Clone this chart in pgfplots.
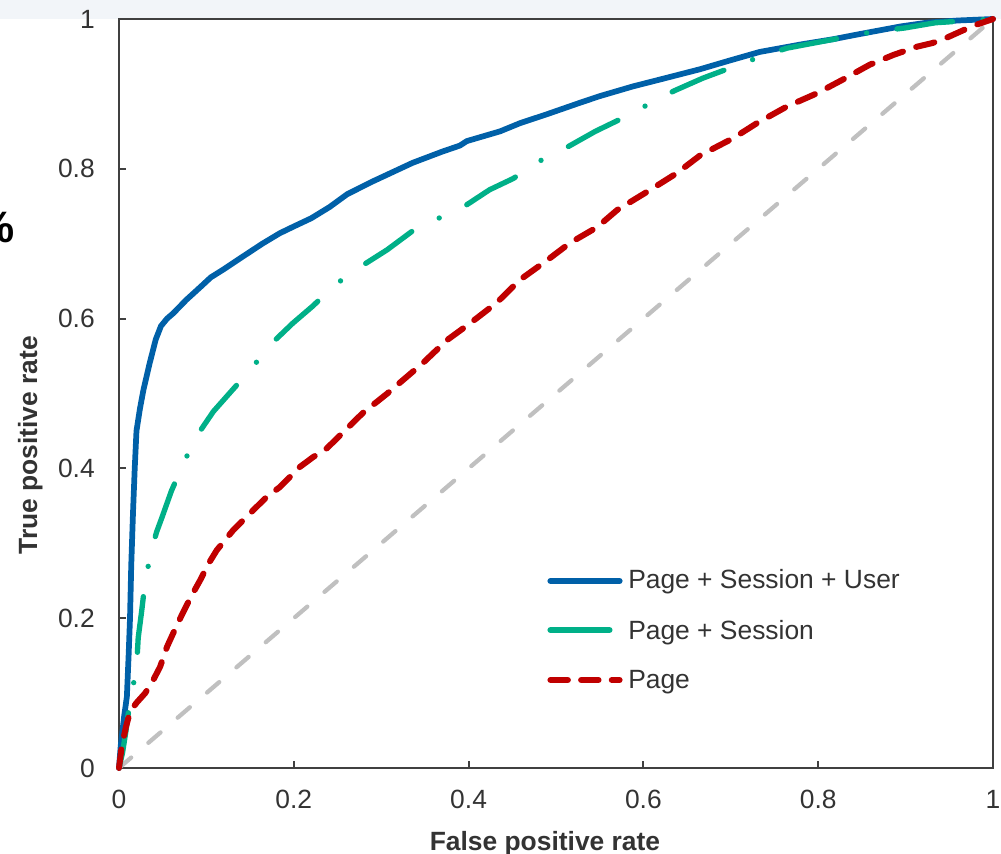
\documentclass[border=0pt]{standalone}
\usepackage{fontspec}
\setmainfont{Liberation Sans}
\usepackage{pgfplots}
\pgfplotsset{compat=1.18}

\definecolor{cBlue}{RGB}{0,96,168}
\definecolor{cGreen}{RGB}{0,176,136}
\definecolor{cRed}{RGB}{192,0,0}
\definecolor{cGray}{RGB}{192,192,192}
\definecolor{cText}{RGB}{51,51,51}
\definecolor{cAxis}{RGB}{64,64,64}
\definecolor{cBand}{RGB}{242,245,249}

\newcommand{\labfont}{\fontsize{19.8}{24}\selectfont}

\begin{document}
\begin{tikzpicture}
  % page size = reference size (1px = 0.75pt), axis box at origin
  \path[use as bounding box] (-89.25pt,-64.5pt) rectangle (661.5pt,576pt);
  \fill[cBand] (-89.25pt,561.75pt) rectangle (661.5pt,576pt);
  % cut-off glyph at the left edge of the slide
  \node[font=\fontsize{33}{40}\selectfont\bfseries, anchor=base east, inner sep=0pt]
    at (-78pt,393.75pt) {\%};

  \begin{axis}[
    scale only axis,
    width=655.5pt, height=561.75pt,
    xmin=0, xmax=1, ymin=0, ymax=1,
    xtick={0,0.2,0.4,0.6,0.8,1},
    ytick={0,0.2,0.4,0.6,0.8,1},
    xtick pos=bottom, ytick pos=left,
    tick align=inside,
    major tick length=5.25pt,
    axis line style={cAxis, line width=1.5pt},
    every tick/.style={cAxis, line width=1.5pt},
    clip=false,
    /pgf/number format/assume math mode=true,
    tick label style={font=\labfont, text=cText},
    xticklabel style={anchor=base, yshift=-30pt},
    yticklabel style={anchor=east, inner sep=0pt, xshift=-18pt},
    xlabel={False positive rate},
    ylabel={True positive rate},
    label style={font=\labfont\bfseries, text=cText},
    xlabel style={at={(axis description cs:0.4874,-0.1095)}, anchor=base},
    ylabel style={at={(axis description cs:-0.0938,0.431)}, anchor=base},
  ]

    % chance line
    \addplot[cGray, line width=3.2pt, line cap=round, dash pattern=on 12pt off 17pt]
      coordinates {(0,0) (1,1)};

    % Page + Session + User
    \addplot[cBlue, line width=4.3pt, line cap=round, line join=round] coordinates {
      (0,0) (0.002,0.03) (0.006,0.07) (0.009,0.095) (0.011,0.15) (0.0126,0.2)
      (0.014,0.27) (0.016,0.34) (0.018,0.40) (0.020,0.45) (0.024,0.48)
      (0.028,0.505) (0.035,0.54) (0.042,0.572) (0.048,0.59) (0.055,0.6)
      (0.062,0.607) (0.077,0.625) (0.093,0.642) (0.105,0.655) (0.12,0.666)
      (0.138,0.680) (0.164,0.700) (0.184,0.714) (0.2,0.723) (0.22,0.734)
      (0.241,0.749) (0.261,0.766) (0.29,0.783) (0.336,0.808) (0.37,0.823)
      (0.39,0.831) (0.398,0.837) (0.436,0.850) (0.459,0.861) (0.49,0.873)
      (0.527,0.888) (0.55,0.897) (0.588,0.910) (0.625,0.921) (0.665,0.933)
      (0.70,0.945) (0.733,0.956) (0.78,0.966) (0.817,0.973) (0.848,0.980)
      (0.894,0.990) (0.924,0.995) (0.96,0.998) (1,1)
    };

    % Page + Session
    \addplot[cGreen, line width=4pt, line cap=round, line join=round,
      dash pattern=on 42pt off 23pt on 0pt off 23pt] coordinates {
      (0,0) (0.004,0.02) (0.008,0.05) (0.0126,0.09) (0.017,0.115) (0.02,0.133)
      (0.022,0.174) (0.026,0.21) (0.03,0.25) (0.037,0.29) (0.043,0.315)
      (0.049,0.334) (0.06,0.37) (0.072,0.402) (0.087,0.44) (0.108,0.476)
      (0.13,0.505) (0.15,0.531) (0.173,0.565) (0.199,0.594) (0.222,0.617)
      (0.247,0.645) (0.276,0.669) (0.307,0.692) (0.337,0.718) (0.362,0.732)
      (0.394,0.749) (0.424,0.772) (0.451,0.787) (0.479,0.809) (0.513,0.829)
      (0.545,0.850) (0.575,0.867) (0.604,0.885) (0.635,0.904) (0.668,0.921)
      (0.73,0.948) (0.764,0.961) (0.80,0.969) (0.863,0.983) (0.899,0.988)
      (0.934,0.995) (1,1)
    };

    % Page
    \addplot[cRed, line width=4.5pt, line cap=round, line join=round,
      dash pattern=on 14pt off 10.5pt] coordinates {
      (0,0) (0.003,0.028) (0.008,0.055) (0.0126,0.075) (0.02,0.087) (0.03,0.10)
      (0.039,0.117) (0.047,0.135) (0.055,0.162) (0.064,0.185) (0.073,0.207)
      (0.083,0.23) (0.093,0.251) (0.102,0.272) (0.112,0.291) (0.131,0.318)
      (0.15,0.34) (0.169,0.362) (0.184,0.375) (0.207,0.402) (0.222,0.415)
      (0.238,0.427) (0.258,0.45) (0.279,0.474) (0.307,0.5) (0.348,0.541)
      (0.375,0.571) (0.402,0.594) (0.432,0.621) (0.459,0.652) (0.49,0.678)
      (0.516,0.701) (0.547,0.722) (0.57,0.745) (0.608,0.772) (0.638,0.794)
      (0.665,0.818) (0.703,0.841) (0.73,0.861) (0.764,0.883) (0.799,0.901)
      (0.828,0.919) (0.859,0.939) (0.886,0.952) (0.913,0.963) (0.931,0.968)
      (0.947,0.975) (0.966,0.985) (0.98,0.992) (1,1)
    };

    % legend
    \draw[cBlue, line width=4.6pt, line cap=round]
      (axis cs:0.4937,0.2497) -- (axis cs:0.5727,0.2497);
    \node[anchor=base west, inner sep=0pt, font=\labfont, text=cText]
      at (axis cs:0.5824,0.239) {Page + Session + User};
    \draw[cGreen, line width=4.6pt, line cap=round]
      (axis cs:0.4937,0.1842) -- (axis cs:0.5612,0.1842);
    \node[anchor=base west, inner sep=0pt, font=\labfont, text=cText]
      at (axis cs:0.5824,0.1722) {Page + Session};
    \draw[cRed, line width=4.6pt, line cap=round, dash pattern=on 13pt off 10pt]
      (axis cs:0.4937,0.1175) -- (axis cs:0.5727,0.1175);
    \node[anchor=base west, inner sep=0pt, font=\labfont, text=cText]
      at (axis cs:0.5824,0.1055) {Page};
  \end{axis}
\end{tikzpicture}
\end{document}
